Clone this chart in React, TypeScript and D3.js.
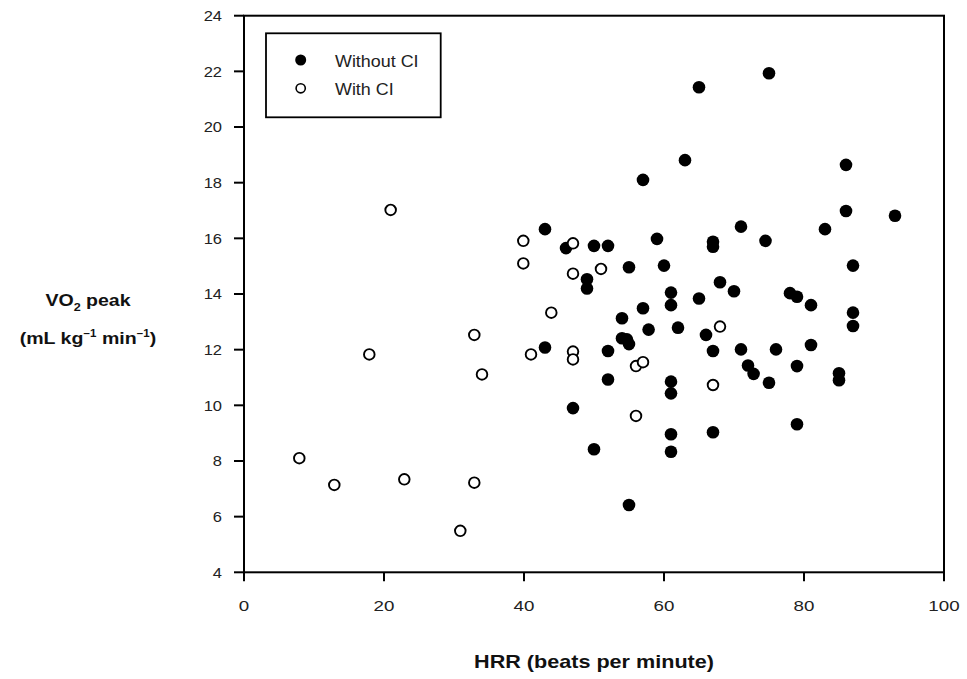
import React from "react";
import * as d3 from "d3";

const withoutX = [43, 46, 50, 52, 55, 49, 49, 54, 57, 54, 54.7, 55, 57.8, 52, 52, 50, 55, 61, 61, 61, 61, 61, 61, 65, 70, 62, 66, 67, 67, 71, 72, 72.8, 75, 76, 78, 79, 81, 81, 79, 79, 85, 85, 87, 87, 65, 75, 63, 57, 86, 86, 93, 83, 71, 74.5, 59, 67, 67, 60, 87, 68, 43, 47];
const withoutY = [16.33, 15.65, 15.73, 15.73, 14.96, 14.53, 14.2, 13.13, 13.49, 12.41, 12.37, 12.2, 12.72, 11.95, 10.93, 8.42, 6.42, 14.05, 13.6, 10.85, 10.43, 8.96, 8.33, 13.84, 14.1, 12.79, 12.53, 11.95, 9.03, 12.01, 11.43, 11.13, 10.81, 12.01, 14.03, 13.9, 13.6, 12.17, 11.41, 9.32, 11.15, 10.9, 13.33, 12.85, 21.43, 21.93, 18.81, 18.1, 18.64, 16.98, 16.81, 16.33, 16.42, 15.91, 15.98, 15.88, 15.7, 15.02, 15.02, 14.42, 12.08, 9.9];

const withX = [7.9, 12.9, 17.9, 20.95, 22.9, 30.9, 32.9, 32.9, 34, 39.9, 39.9, 41, 43.9, 47, 47, 47, 47, 51, 56, 57, 56, 68, 67];
const withY = [8.1, 7.14, 11.83, 17.02, 7.34, 5.49, 12.53, 7.22, 11.11, 15.91, 15.1, 11.83, 13.33, 15.82, 14.73, 11.93, 11.65, 14.9, 11.41, 11.55, 9.62, 12.83, 10.73];

const xTicks = [0, 20, 40, 60, 80, 100];
const yTicks = [4, 6, 8, 10, 12, 14, 16, 18, 20, 22, 24];
const legendLabels = ["Without CI", "With CI"];

const FONT = "'Liberation Sans', Arial, Helvetica, sans-serif";

export default function App() {
  const left = 244, right = 944, top = 15.7, bottom = 572.3;
  const x = d3.scaleLinear().domain([0, 100]).range([left, right]);
  const y = d3.scaleLinear().domain([4, 24]).range([bottom, top]);

  const filled = withoutX.map((v, i) => ({ x: v, y: withoutY[i] }));
  const open = withX.map((v, i) => ({ x: v, y: withY[i] }));

  return (
    <svg width={967} height={679} style={{ position: "absolute", left: 0, top: 0, background: "#fff" }}>
      <rect x={0} y={0} width={967} height={679} fill="#fff" />
      <rect x={left} y={top} width={right - left} height={bottom - top} fill="none" stroke="#000" strokeWidth={2} />
      {yTicks.map((t) => (
        <g key={"y" + t}>
          <line x1={left - 10} x2={left} y1={y(t)} y2={y(t)} stroke="#000" strokeWidth={2} />
          <text transform={`translate(222,${y(t)}) scale(1.1,1)`} dy="0.36em" textAnchor="end" fontFamily={FONT} fontSize={15} fill="#222">
            {t}
          </text>
        </g>
      ))}
      {xTicks.map((t) => (
        <g key={"x" + t}>
          <line x1={x(t)} x2={x(t)} y1={bottom} y2={bottom + 9} stroke="#000" strokeWidth={2} />
          <text transform={`translate(${x(t)},606) scale(1.25,1)`} dy="0.36em" textAnchor="middle" fontFamily={FONT} fontSize={15} fill="#222">
            {t}
          </text>
        </g>
      ))}
      <text transform="translate(594,662) scale(1.2,1)" dy="0.36em" textAnchor="middle" fontFamily={FONT} fontSize={18} fontWeight="bold" fill="#111">
        HRR (beats per minute)
      </text>
      <text transform="translate(88,300) scale(1.15,1)" dy="0.36em" textAnchor="middle" fontFamily={FONT} fontSize={17} fontWeight="bold" fill="#111">
        VO<tspan fontSize={11} dy="5">2</tspan>
        <tspan dy="-5"> peak</tspan>
      </text>
      <text transform="translate(88,338) scale(1.15,1)" dy="0.36em" textAnchor="middle" fontFamily={FONT} fontSize={17} fontWeight="bold" fill="#111">
        (mL kg<tspan fontSize={10} dy="-7">−1</tspan>
        <tspan dy="7"> min</tspan>
        <tspan fontSize={10} dy="-7">−1</tspan>
        <tspan dy="7">)</tspan>
      </text>
      {filled.map((p, i) => (
        <circle key={"f" + i} cx={x(p.x)} cy={y(p.y)} r={6.3} fill="#000" />
      ))}
      {open.map((p, i) => (
        <circle key={"o" + i} cx={x(p.x)} cy={y(p.y)} r={5.3} fill="#fff" stroke="#000" strokeWidth={1.9} />
      ))}
      <rect x={266} y={33.3} width={174.7} height={84} fill="#fff" stroke="#000" strokeWidth={1.8} />
      <circle cx={300.7} cy={60} r={5.5} fill="#000" />
      <text transform="translate(335,61) scale(1.12,1)" dy="0.36em" fontFamily={FONT} fontSize={16} fill="#222">{legendLabels[0]}</text>
      <circle cx={300.7} cy={88.3} r={4.6} fill="#fff" stroke="#000" strokeWidth={1.6} />
      <text transform="translate(335,89) scale(1.12,1)" dy="0.36em" fontFamily={FONT} fontSize={16} fill="#222">{legendLabels[1]}</text>
    </svg>
  );
}
